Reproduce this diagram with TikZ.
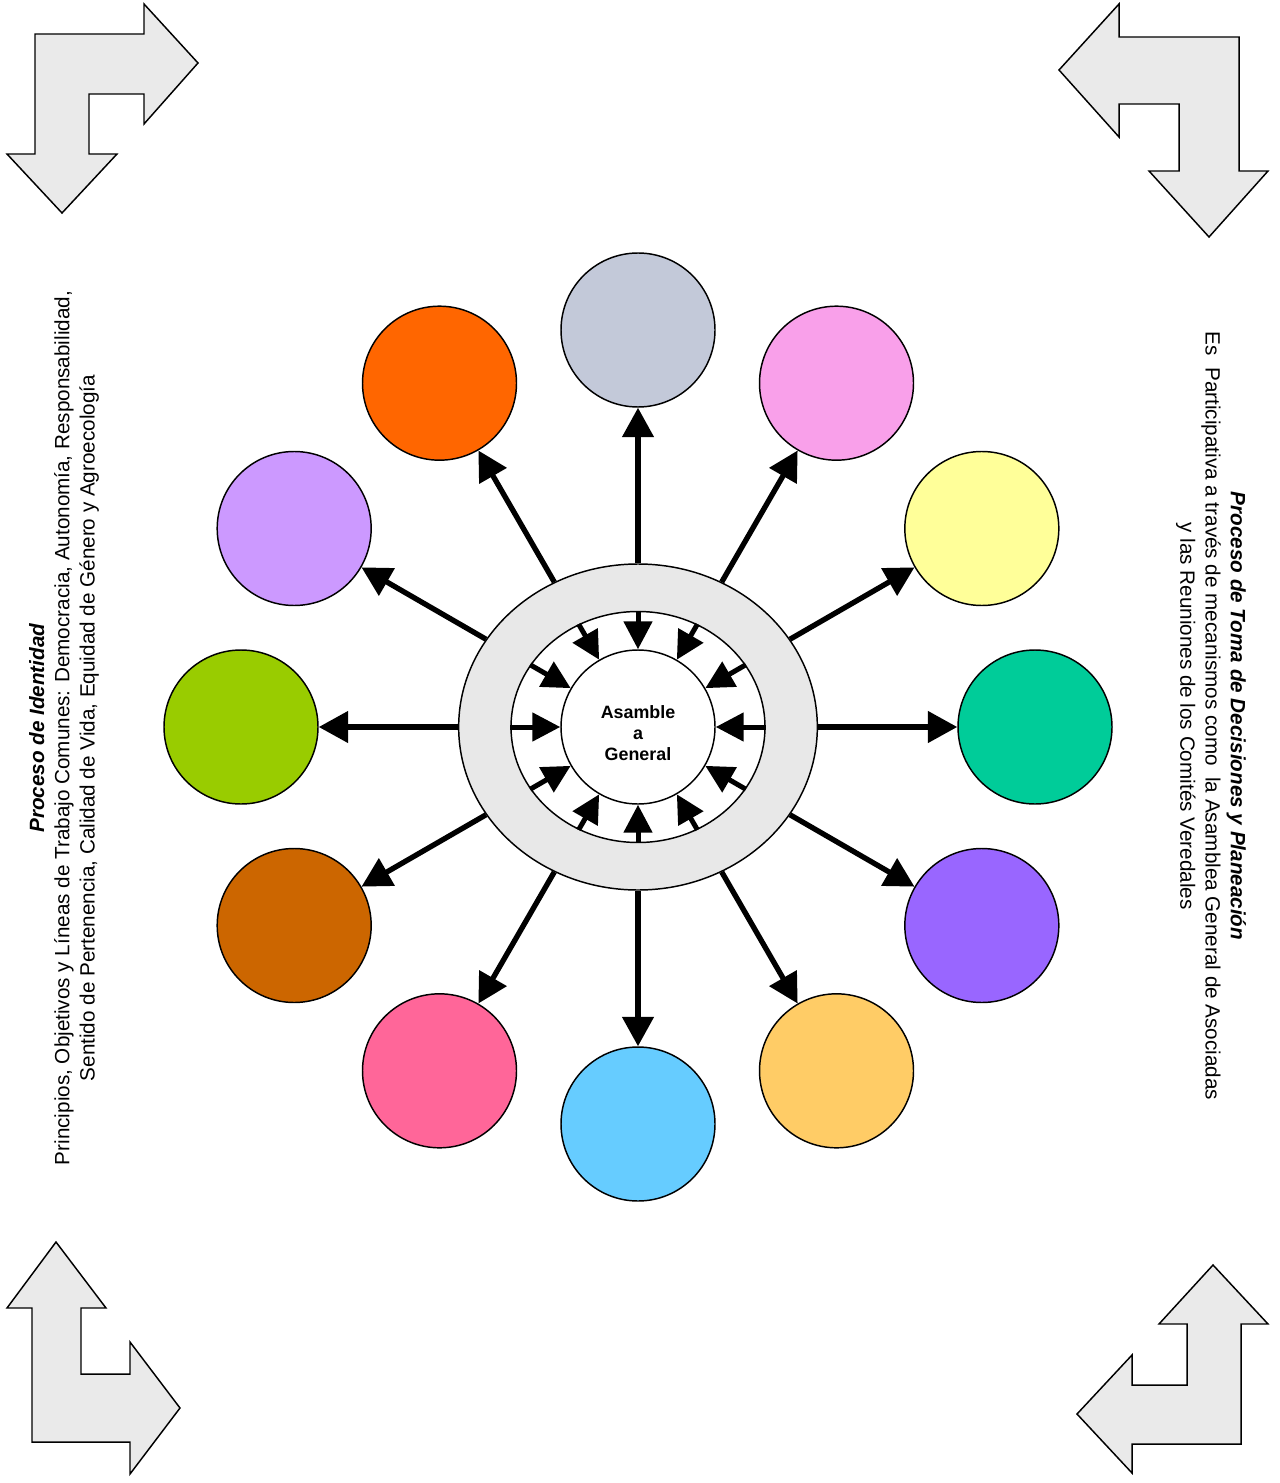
\documentclass[tikz,border=0pt]{standalone}
\usepackage{fontspec}
\setmainfont{Liberation Sans}
\usetikzlibrary{arrows.meta,shapes.geometric,calc}
\definecolor{ringgray}{HTML}{E8E8E8}
\definecolor{arrowgray}{HTML}{EAEAEA}
\definecolor{cA}{HTML}{C3C9D9}
\definecolor{cB}{HTML}{F9A0EA}
\definecolor{cC}{HTML}{FFFF99}
\definecolor{cD}{HTML}{00CC99}
\definecolor{cE}{HTML}{9966FF}
\definecolor{cF}{HTML}{FFCC66}
\definecolor{cG}{HTML}{66CCFF}
\definecolor{cH}{HTML}{FF6699}
\definecolor{cI}{HTML}{CC6600}
\definecolor{cJ}{HTML}{99CC00}
\definecolor{cK}{HTML}{CC99FF}
\definecolor{cL}{HTML}{FF6600}
\begin{document}
\begin{tikzpicture}[x=0.75pt,y=0.75pt,
  bub/.style={circle,draw=black,line width=1.1pt,minimum size=115.5pt,inner sep=0pt},
  outarrow/.style={line width=4pt,-{Triangle[length=22pt,width=23pt]}},
  inarrow/.style={line width=3.75pt,-{Triangle[length=21pt,width=21pt]}},
  bendarrow/.style={fill=arrowgray,draw=black,line width=1.1pt,line join=miter},
  sidetext/.style={align=center,font=\fontsize{15.5}{19}\selectfont,inner sep=0pt}]
\useasboundingbox (0,0) rectangle (1279,-1483);
\coordinate (O) at (638,-727);
% corner bent arrows
\draw[bendarrow] (144,-4) -- (198,-63) -- (144,-124) -- (144,-94) -- (89,-94) -- (89,-154) -- (117,-154) -- (62,-213) -- (7,-154) -- (35,-154) -- (35,-34) -- (144,-34) -- cycle;
\draw[bendarrow] (1119,-4) -- (1059,-70) -- (1119,-137) -- (1119,-104) -- (1179,-104) -- (1179,-171) -- (1149,-171) -- (1209,-237) -- (1268,-171) -- (1239,-171) -- (1239,-37) -- (1119,-37) -- cycle;
\draw[bendarrow] (56,-1242) -- (106,-1308) -- (81,-1308) -- (81,-1374) -- (130,-1374) -- (130,-1342) -- (180,-1408) -- (130,-1474) -- (130,-1442) -- (32,-1442) -- (32,-1308) -- (7,-1308) -- cycle;
\draw[bendarrow] (1213,-1265) -- (1268,-1324) -- (1241,-1324) -- (1241,-1444) -- (1132,-1444) -- (1132,-1473) -- (1077,-1414) -- (1132,-1355) -- (1132,-1385) -- (1187,-1385) -- (1187,-1324) -- (1159,-1324) -- cycle;
% center rings
\node[ellipse,draw=black,fill=ringgray,line width=1.1pt,minimum width=269pt,minimum height=244.5pt,inner sep=0pt] (outer) at (O) {};
\node[ellipse,draw=black,fill=white,line width=1.1pt,minimum width=190.5pt,minimum height=173.25pt,inner sep=0pt] (ring) at (O) {};
\node[circle,draw=black,fill=white,line width=1.1pt,minimum size=115.5pt,inner sep=0pt] (core) at (O) {};
\node[align=center,inner sep=0pt,font=\bfseries\fontsize{13.4}{15.75}\selectfont] (coretext) at ($(O)+(0,-6)$) {Asamble\\a\\General};
% outer circles
\foreach \a/\c/\n in {90/cA/c90,60/cB/c60,30/cC/c30,0/cD/c0,-30/cE/cm30,-60/cF/cm60,-90/cG/cm90,-120/cH/cm120,-150/cI/cm150,180/cJ/c180,150/cK/c150,120/cL/c120}
  \node[bub,fill=\c] (\n) at ($(O)+(\a:397)$) {};
\foreach \n in {c90,c60,c30,c0,cm30,cm60,cm90,cm120,cm150,c180,c150,c120}
  \draw[outarrow] (outer) -- (\n);
% inner arrows
\foreach \a in {0,30,...,330}
  \draw[inarrow] (ring.\a) -- (core.\a);
% side texts
\node[sidetext,rotate=90] (lefttext) at (64,-728) {\textbf{\textit{Proceso de Identidad}}\\Principios, Objetivos y Líneas de Trabajo Comunes: Democracia, Autonomía, Responsabilidad,\\Sentido de Pertenencia, Calidad de Vida, Equidad de Género y Agroecología};
\node[sidetext,rotate=-90] (righttext) at (1211,-716) {\textbf{\textit{Proceso de Toma de Decisiones y Planeación}}\\Es\ \ Participativa a través de mecanismos como\ \ la Asamblea General de Asociadas\\y las Reuniones de los Comités Veredales};
\end{tikzpicture}
\end{document}
